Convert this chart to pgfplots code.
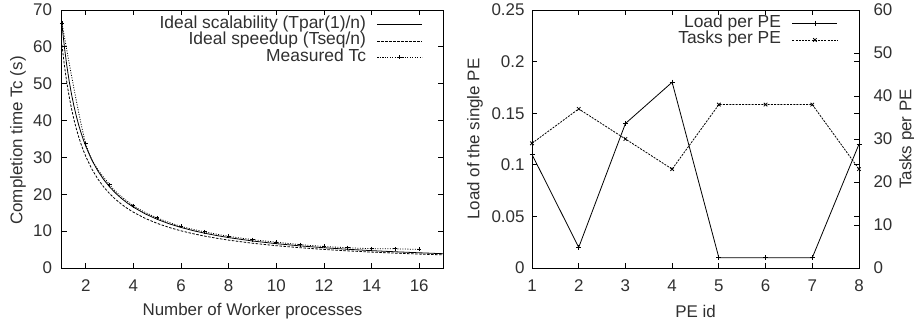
\documentclass[border=0pt]{standalone}
\usepackage{fontspec}
\setmainfont{Liberation Sans}
\usepackage{pgfplots}
\pgfplotsset{compat=1.18}
\definecolor{textgray}{HTML}{303030}
\pgfplotsset{
  gp/.style={
    scale only axis,
    height=258bp,
    tick align=inside,
    major tick length=5bp,
    axis line style={line width=1bp, black},
    every tick/.style={black, line width=0.8bp},
    /pgf/number format/assume math mode=true,
    xticklabel style={yshift=-8.5bp},
    legend plot pos=right,
    legend cell align=right,
    legend image code/.code={\draw[mark repeat=2,mark phase=2,#1] plot coordinates {(0bp,0bp) (22.5bp,0bp) (45bp,0bp)};},
    legend style={draw=none, fill=none, inner sep=0pt, at={(axis description cs:1,1)}, anchor=north east,
      row sep=0pt, column sep=0pt,
      nodes={inner sep=0pt, text height=12bp, text depth=4.5bp},
      /tikz/every odd column/.append style={column sep=11bp},
      font=\fontsize{17.5}{17.5}\selectfont, text=textgray},
  }
}
\begin{document}
\begin{tikzpicture}[font=\fontsize{17}{19}\selectfont]
\useasboundingbox (-62bp,-53bp) rectangle (852bp,268bp);
% ---------- left chart ----------
\begin{axis}[gp,
  at={(0bp,0bp)}, anchor=south west,
  width=381bp,
  xmin=1, xmax=17, ymin=0, ymax=70,
  xtick={2,4,...,16}, ytick={0,10,...,70},
  yticklabel style={xshift=-6.5bp},
  every axis x label/.style={at={(axis description cs:0.5,0)}, anchor=center, yshift=-43bp, text=textgray},
  every axis y label/.style={at={(axis description cs:0,0.5)}, xshift=-44bp, yshift=-1.5bp, rotate=90, anchor=center, text=textgray},
  xlabel={Number of Worker processes},
  ylabel={Completion time Tc (s)},
  ticklabel style={text=textgray},
  legend style={xshift=-20bp, yshift=-6bp},
]
\addplot[black, line width=0.8bp, no marks] coordinates {
(1,66) (1.1,60.0) (1.2,55.0) (1.3,50.77) (1.4,47.14) (1.5,44.0) (1.6,41.25) (1.7,38.82) (1.8,36.67) (1.9,34.74)
(2,33.0) (2.25,29.33) (2.5,26.4) (2.75,24.0) (3,22.0) (3.25,20.31) (3.5,18.86) (3.75,17.6) (4,16.5)
(4.5,14.67) (5,13.2) (5.5,12.0) (6,11.0) (6.5,10.15) (7,9.43) (7.5,8.8) (8,8.25) (9,7.33) (10,6.6)
(11,6.0) (12,5.5) (13,5.08) (14,4.71) (15,4.4) (16,4.13) (17,3.88)};
\addlegendentry{Ideal scalability (Tpar(1)/n)}
\addplot[black, line width=0.8bp, no marks, dash pattern=on 2.5bp off 1.5bp] coordinates {
(1,60.5) (1.1,55.0) (1.2,50.42) (1.3,46.54) (1.4,43.21) (1.5,40.33) (1.6,37.81) (1.7,35.59) (1.8,33.61) (1.9,31.84)
(2,30.25) (2.25,26.89) (2.5,24.2) (2.75,22.0) (3,20.17) (3.25,18.62) (3.5,17.29) (3.75,16.13) (4,15.13)
(4.5,13.44) (5,12.1) (5.5,11.0) (6,10.08) (6.5,9.31) (7,8.64) (7.5,8.07) (8,7.56) (9,6.72) (10,6.05)
(11,5.5) (12,5.04) (13,4.65) (14,4.32) (15,4.03) (16,3.78) (17,3.56)};
\addlegendentry{Ideal speedup (Tseq/n)}
\addplot[black, line width=0.8bp, smooth, dash pattern=on 1bp off 1.5bp, mark=+, mark size=2bp, mark options={solid, line width=0.8bp}] coordinates {
(1,66.4) (2,33.7) (3,22.6) (4,16.9) (5,13.6) (6,11.3) (7,9.8) (8,8.6) (9,7.7) (10,7.0)
(11,6.35) (12,5.85) (13,5.5) (14,5.25) (15,5.2) (16,5.05)};
\addlegendentry{Measured Tc}
\end{axis}
% ---------- right chart ----------
\begin{axis}[gp,
  at={(470bp,0bp)}, anchor=south west,
  width=327bp,
  xmin=1, xmax=8, ymin=0, ymax=0.25,
  xtick={1,...,8}, ytick={0,0.05,0.1,0.15,0.2,0.25},
  yticklabels={0,0.05,0.1,0.15,0.2,0.25},
  yticklabel style={xshift=-4bp},
  every axis x label/.style={at={(axis description cs:0.5,0)}, anchor=center, yshift=-43bp, text=textgray},
  every axis y label/.style={at={(axis description cs:0,0.5)}, xshift=-57bp, rotate=90, anchor=center, text=textgray},
  xlabel={PE id},
  ylabel={Load of the single PE},
  ticklabel style={text=textgray},
  legend style={xshift=-21bp, yshift=-5bp},
]
\addplot[black, line width=0.8bp, mark=+, mark size=2.5bp, mark options={solid, line width=0.8bp}] coordinates {
(1,0.11) (2,0.02) (3,0.14) (4,0.18) (5,0.01) (6,0.01) (7,0.01) (8,0.12)};
\addlegendentry{Load per PE}
\addlegendimage{black, line width=0.8bp, dash pattern=on 2bp off 1.2bp, mark=x, mark size=2.5bp, mark options={solid, line width=0.8bp}}
\addlegendentry{Tasks per PE}
\end{axis}
\begin{axis}[gp,
  at={(470bp,0bp)}, anchor=south west,
  width=327bp,
  xmin=1, xmax=8, ymin=0, ymax=60,
  axis x line=none, axis y line*=right,
  ytick={0,10,...,60},
  yticklabel style={xshift=11bp},
  ticklabel style={text=textgray},
  every axis y label/.style={at={(axis description cs:1,0.5)}, xshift=48bp, rotate=90, anchor=center, text=textgray},
  ylabel={Tasks per PE},
]
\addplot[black, line width=0.8bp, dash pattern=on 2bp off 1.2bp, mark=x, mark size=2.5bp, mark options={solid, line width=0.8bp}] coordinates {
(1,29) (2,37) (3,30) (4,23) (5,38) (6,38) (7,38) (8,23)};
\end{axis}
\end{tikzpicture}
\end{document}
